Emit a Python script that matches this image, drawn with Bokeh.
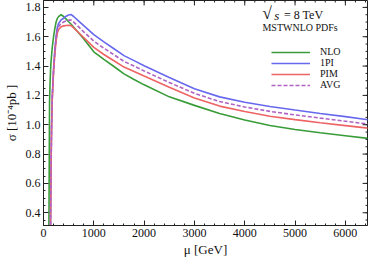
from bokeh.plotting import figure
from bokeh.models import (Range1d, FixedTicker, Label, Legend,
                          LegendItem, PrintfTickFormatter)
from bokeh.embed import file_html
from bokeh.resources import INLINE

# ---------------- data ----------------
mu = [100, 110, 120, 130, 140, 150, 160, 175, 200, 225, 250, 275, 300, 350,
      400, 450, 500, 550, 600, 700, 800, 1000, 1200, 1400, 1600, 1800, 2000,
      2500, 3000, 3500, 4000, 4500, 5000, 5500, 6000, 6500]

nlo = [0.00, 0.45, 1.15, 1.28, 1.37, 1.43, 1.47, 1.53, 1.60, 1.655, 1.70,
       1.725, 1.737, 1.750, 1.738, 1.720, 1.702, 1.685, 1.665, 1.625, 1.585,
       1.497, 1.445, 1.397, 1.347, 1.308, 1.272, 1.190, 1.132, 1.076, 1.032,
       0.995, 0.968, 0.945, 0.925, 0.905]

opi = [-0.50, -0.30, -0.10, 0.10, 0.33, 0.72, 0.98, 1.20, 1.38, 1.51, 1.60,
       1.665, 1.690, 1.715, 1.726, 1.740, 1.748, 1.751, 1.738, 1.707, 1.676,
       1.614, 1.565, 1.518, 1.471, 1.437, 1.402, 1.322, 1.245, 1.190, 1.153,
       1.124, 1.100, 1.077, 1.055, 1.032]

pim = [-0.50, -0.30, -0.10, 0.10, 0.33, 0.70, 0.96, 1.18, 1.36, 1.48, 1.57,
       1.625, 1.650, 1.668, 1.674, 1.677, 1.678, 1.676, 1.660, 1.627, 1.594,
       1.527, 1.479, 1.436, 1.393, 1.363, 1.332, 1.255, 1.183, 1.127, 1.090,
       1.058, 1.035, 1.013, 0.994, 0.975]

avg = [-0.50, -0.30, -0.10, 0.10, 0.33, 0.71, 0.97, 1.19, 1.37, 1.495, 1.585,
       1.645, 1.670, 1.690, 1.700, 1.708, 1.713, 1.713, 1.700, 1.667, 1.633,
       1.570, 1.522, 1.477, 1.432, 1.400, 1.367, 1.288, 1.214, 1.158, 1.121,
       1.091, 1.067, 1.045, 1.024, 1.003]

series_names = ["NLO", "1PI", "PIM", "AVG"]
x_ticks = [0, 1000, 2000, 3000, 4000, 5000, 6000]
x_minor = list(range(0, 6600, 200))
y_ticks = [0.4, 0.6, 0.8, 1.0, 1.2, 1.4, 1.6, 1.8]
y_minor = [round(0.30 + 0.05 * i, 2) for i in range(32)]

# ---------------- styling ----------------
FONT = "Liberation Serif"
colors = ["#389c38", "#6868ee", "#ee6464", "#b062c4"]
dashes = ["solid", "solid", "solid", "4 2"]
X0, X1 = 0, 6440
Y0, Y1 = 0.313, 1.847
W, H = 369, 259
BL, BR, BT, BB = 37, 2, 0, 32
FW, FH = W - BL - BR, H - BT - BB

p = figure(width=W, height=H, output_backend="svg", toolbar_location=None,
           x_range=Range1d(X0, X1), y_range=Range1d(Y0, Y1),
           min_border_left=BL, min_border_right=BR, min_border_top=BT,
           min_border_bottom=BB)
p.xgrid.visible = False
p.ygrid.visible = False
p.outline_line_color = "#222222"
p.background_fill_color = "white"
p.border_fill_color = "white"

renderers = []
for ys, c, d in zip([nlo, opi, pim, avg], colors, dashes):
    r = p.line(mu, ys, line_color=c, line_width=1.6, line_dash=d)
    renderers.append(r)


def style_axis(ax, ticks, minor):
    ax.ticker = FixedTicker(ticks=ticks, minor_ticks=minor)
    ax.major_tick_in = 5
    ax.major_tick_out = 0
    ax.minor_tick_in = 2
    ax.minor_tick_out = 0
    ax.axis_line_color = "#222222"
    ax.major_tick_line_color = "#222222"
    ax.minor_tick_line_color = "#222222"
    ax.major_label_text_font = FONT
    ax.major_label_text_font_size = "12px"
    ax.major_label_text_color = "#111111"


style_axis(p.xaxis[0], x_ticks, x_minor)
style_axis(p.yaxis[0], y_ticks, y_minor)
p.xaxis[0].formatter = PrintfTickFormatter(format="%d")
p.yaxis[0].formatter = PrintfTickFormatter(format="%.1f")
p.xaxis[0].major_label_standoff = 3
p.yaxis[0].major_label_standoff = 3

p.xaxis[0].axis_label = "μ [GeV]"
p.yaxis[0].axis_label = "σ [10⁻⁴pb ]"
for ax in (p.xaxis[0], p.yaxis[0]):
    ax.axis_label_text_font = FONT
    ax.axis_label_text_font_size = "13px"
    ax.axis_label_text_font_style = "normal"
    ax.axis_label_text_color = "#111111"
p.xaxis[0].axis_label_standoff = 2
p.yaxis[0].axis_label_standoff = 4

# mirrored inward ticks on the top and right frame edges
PX_X = (X1 - X0) / FW   # data units per pixel (x)
PX_Y = (Y1 - Y0) / FH   # data units per pixel (y)
p.segment(x0=x_ticks, y0=[Y1] * len(x_ticks), x1=x_ticks,
          y1=[Y1 - 5 * PX_Y] * len(x_ticks), line_color="#222222", line_width=1)
p.segment(x0=x_minor, y0=[Y1] * len(x_minor), x1=x_minor,
          y1=[Y1 - 2 * PX_Y] * len(x_minor), line_color="#222222", line_width=1)
p.segment(x0=[X1] * len(y_ticks), y0=y_ticks, x1=[X1 - 5 * PX_X] * len(y_ticks),
          y1=y_ticks, line_color="#222222", line_width=1)
p.segment(x0=[X1] * len(y_minor), y0=y_minor, x1=[X1 - 2 * PX_X] * len(y_minor),
          y1=y_minor, line_color="#222222", line_width=1)

# ---------------- legend ----------------
legend = Legend(items=[LegendItem(label=n, renderers=[r])
                       for n, r in zip(series_names, renderers)],
                location=(228, 135), orientation="vertical",
                glyph_width=39, glyph_height=10, label_height=10,
                label_standoff=10, spacing=0, padding=0, margin=0,
                border_line_color=None, background_fill_alpha=0,
                label_text_font=FONT, label_text_font_size="10px",
                label_text_color="#111111")
p.add_layout(legend)


# header texts, placed in screen pixels of the page converted to data units
def sx(px):
    return X0 + (px - 8 - BL) * PX_X


def sy(py):
    return Y1 - (py - 8 - BT) * PX_Y


p.add_layout(Label(x=sx(268), y=sy(21), text="√", text_font=FONT,
                   text_font_size="17px", text_baseline="middle",
                   text_color="#111111"))
p.add_layout(Label(x=sx(280), y=sy(23), text="s", text_font=FONT,
                   text_font_size="13px", text_font_style="italic",
                   text_baseline="middle", text_color="#111111"))
p.add_layout(Label(x=sx(290), y=sy(23), text="= 8  TeV", text_font=FONT,
                   text_font_size="12px", text_baseline="middle",
                   text_color="#111111"))
p.add_layout(Label(x=sx(268), y=sy(35), text="MSTWNLO PDFs", text_font=FONT,
                   text_font_size="10px", text_baseline="middle",
                   text_color="#111111"))

open("out.html", "w").write(file_html(p, INLINE))
